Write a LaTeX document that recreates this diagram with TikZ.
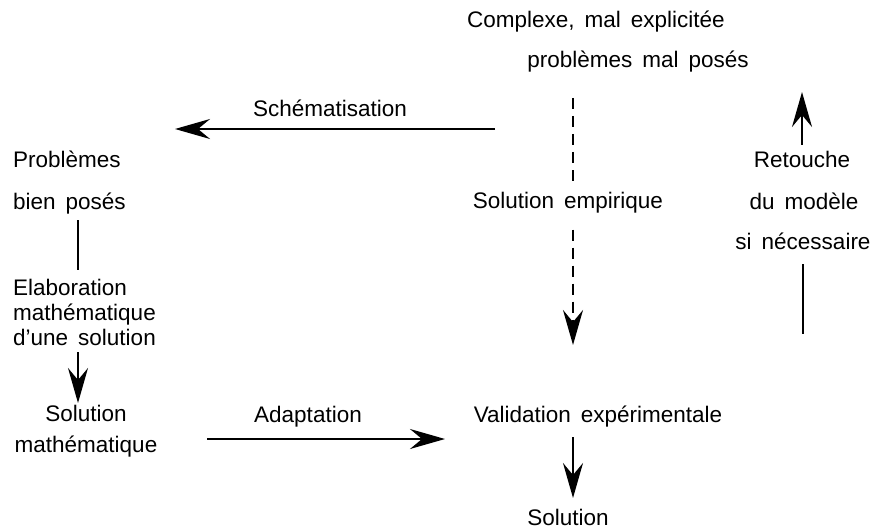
\documentclass[tikz,border=0pt]{standalone}
\usepackage{fontspec}
\setmainfont{Liberation Sans}
\usetikzlibrary{arrows.meta}

\newcommand\espacemots{\spaceskip=10pt plus 2pt\relax}

\tikzset{
  lbl/.style={inner sep=1pt, text height=16pt, text depth=5pt, font=\fontsize{22.5}{25}\selectfont\espacemots},
  pointe/.style={-{Stealth[length=35pt,width=20pt,inset=12pt]}},
  fleche/.style={line width=2.4pt, pointe},
  trait/.style={line width=2.4pt},
  tirets/.style={line width=2.4pt, dash pattern=on 11pt off 7pt}
}

\begin{document}
\begin{tikzpicture}[x=1pt,y=-1pt]
    \useasboundingbox (0,0) rectangle (870,532);
    % textes
    \node[lbl] (complexe) at (596,22) {Complexe, mal explicitée};
    \node[lbl] (malposes) at (638,62) {problèmes mal posés};
    \node[lbl] (schema) at (330,111) {Schématisation};
    \node[lbl,anchor=west] (problemes) at (12,162) {Problèmes};
    \node[lbl,anchor=west] (bienposes) at (12,204) {bien posés};
    \node[lbl,anchor=west,align=left,text height=,text depth=] (elab) at (12,312) {Elaboration\\mathématique\\d'une solution};
    \node[lbl,align=center,text height=,text depth=] (solmath) at (86,431) {Solution\\[6pt]mathématique};
    \node[lbl] (empirique) at (568,203) {Solution empirique};
    \node[lbl] (adaptation) at (308,417) {Adaptation};
    \node[lbl] (validation) at (598,417) {Validation expérimentale};
    \node[lbl] (solution) at (568,520) {Solution};
    \node[lbl] (retouche) at (802,162) {Retouche};
    \node[lbl] (modele) at (804,204) {du modèle};
    \node[lbl] (necessaire) at (803,244) {si nécessaire};
    % extremites libres
    \coordinate (schA) at (495,129);
    \coordinate (schB) at (175,129);
    \coordinate (dashA) at (573,98);
    \coordinate (dashB) at (573,345);
    \coordinate (bienA) at (78,220);
    \coordinate (bienB) at (78,270);
    \coordinate (elabA) at (78,352);
    \coordinate (elabB) at (78,403);
    \coordinate (adapA) at (207,439);
    \coordinate (adapB) at (445,439);
    \coordinate (valA) at (573,437);
    \coordinate (valB) at (573,498);
    \coordinate (retA) at (802,145);
    \coordinate (retB) at (802,92);
    \coordinate (necA) at (803,264);
    \coordinate (necB) at (803,334);
    % fleches
    \draw[fleche] (schA) -- (schB);
    \draw[tirets,shorten >=9pt] (dashA) -- (empirique.north -| dashA);
    \draw[tirets,pointe,shorten <=15pt] (empirique.south -| dashA) -- (dashB);
    \draw[trait] (bienA) -- (bienB);
    \draw[fleche] (elabA) -- (elabB);
    \draw[fleche] (adapA) -- (adapB);
    \draw[fleche] (valA) -- (valB);
    \draw[fleche] (retA) -- (retB);
    \draw[trait] (necA) -- (necB);
\end{tikzpicture}
\end{document}
